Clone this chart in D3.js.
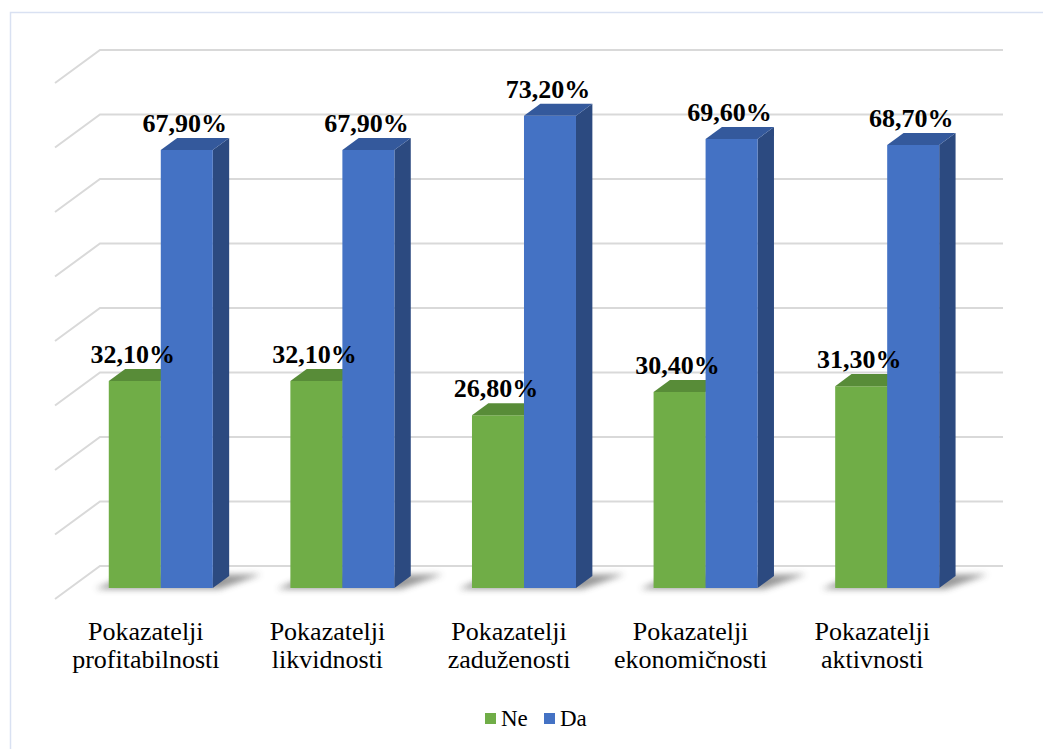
<!DOCTYPE html>
<html>
<head>
<meta charset="utf-8">
<script src="https://cdn.jsdelivr.net/npm/d3@7"></script>
<style>
  body { margin: 0; background: #fff; }
  text { font-family: 'Liberation Serif', 'DejaVu Serif', serif; }
</style>
</head>
<body>
<svg id="chart"></svg>
<script>
var categories = [
  ["Pokazatelji", "profitabilnosti"],
  ["Pokazatelji", "likvidnosti"],
  ["Pokazatelji", "zaduženosti"],
  ["Pokazatelji", "ekonomičnosti"],
  ["Pokazatelji", "aktivnosti"]
];
var seriesNames = ["Ne", "Da"];
var neValues = [32.1, 32.1, 26.8, 30.4, 31.3];
var daValues = [67.9, 67.9, 73.2, 69.6, 68.7];
var gridTicks = [0, 10, 20, 30, 40, 50, 60, 70, 80];

var width = 1043, height = 749;
var serif = "'Liberation Serif', 'DejaVu Serif', serif";
var svg = d3.select('#chart').attr('width', width).attr('height', height)
  .style('display', 'block');

// colours: front, top, side
var colors = {
  Ne: { front: '#70AD47', top: '#588C38', side: '#4E7D31' },
  Da: { front: '#4472C4', top: '#34599C', side: '#2C4A80' }
};

// oblique projection: z = 0 front of floor, z = 1 back wall
var depthX = 45, depthY = 33;
var catKeys = categories.map(function (c) { return c.join(' '); });
var x = d3.scaleBand().domain(catKeys).range([55, 963]);
var sub = d3.scaleBand().domain(seriesNames).range([0, x.bandwidth()]).paddingOuter(0.746);
var y = d3.scaleLinear().domain([0, 80]).range([599, 83]);

function P(px, v, z) {
  return [px + z * depthX, y(v) - z * depthY];
}

var defs = svg.append('defs');
defs.append('filter').attr('id', 'blur')
  .attr('x', '-50%').attr('y', '-50%').attr('width', '200%').attr('height', '200%')
  .append('feGaussianBlur').attr('stdDeviation', 3);

// frame
svg.append('path')
  .attr('d', 'M10.5,749 L10.5,12.5 L1043,12.5')
  .attr('fill', 'none').attr('stroke', '#D9E1F2').attr('stroke-width', 1.5);

// gridlines: back wall + left wall
var grid = svg.append('g');
gridTicks.forEach(function (t) {
  var a = P(55, t, 0), b = P(55, t, 1), c = P(958, t, 1);
  grid.append('path')
    .attr('d', 'M' + a + 'L' + b + 'L' + c)
    .attr('fill', 'none')
    .attr('stroke', '#D9D9D9')
    .attr('stroke-width', 2);
});

var z0 = 0.333, z1 = 0.697;

// floor shadows
var shadows = svg.append('g');
catKeys.forEach(function (k) {
  var xl = x(k) + sub('Ne'), xr = x(k) + sub('Da') + sub.bandwidth();
  var p1 = P(xl - 12, 0, z0 - 0.03), p2 = P(xr + 8, 0, z0 - 0.03),
      p3 = P(xr + 30, 0, z1 + 0.05), p4 = P(xl, 0, z1);
  shadows.append('path')
    .attr('d', 'M' + p1 + 'L' + p2 + 'L' + p3 + 'L' + p4 + 'Z')
    .attr('fill', '#444').attr('opacity', 0.55)
    .attr('filter', 'url(#blur)');
});

function drawBar(g, x0, w, v, c) {
  var fl = P(x0, v, z0), fr = P(x0 + w, v, z0),
      bl = P(x0, v, z1), br = P(x0 + w, v, z1),
      flb = P(x0, 0, z0), frb = P(x0 + w, 0, z0), brb = P(x0 + w, 0, z1);
  g.append('path').attr('d', 'M' + fr + 'L' + br + 'L' + brb + 'L' + frb + 'Z').attr('fill', c.side);
  g.append('path').attr('d', 'M' + fl + 'L' + fr + 'L' + frb + 'L' + flb + 'Z').attr('fill', c.front);
  g.append('path').attr('d', 'M' + fl + 'L' + bl + 'L' + br + 'L' + fr + 'Z').attr('fill', c.top);
}

var bars = svg.append('g');
var labels = svg.append('g')
  .attr('font-family', serif)
  .attr('font-weight', 'bold').attr('font-size', 26).attr('text-anchor', 'middle');

catKeys.forEach(function (k, i) {
  var vals = { Ne: neValues[i], Da: daValues[i] };
  seriesNames.forEach(function (s) {
    drawBar(bars, x(k) + sub(s), sub.bandwidth(), vals[s], colors[s]);
    var top = P(x(k) + sub(s) + sub.bandwidth() / 2, vals[s], z0);
    labels.append('text')
      .attr('x', top[0] - 2)
      .attr('y', top[1] - 18)
      .text(d3.format('.2f')(vals[s]).replace('.', ',') + '%');
  });
});
labels.raise();

// category labels
var catG = svg.append('g').attr('font-family', serif)
  .attr('font-size', 26).attr('text-anchor', 'middle').attr('fill', '#000');
categories.forEach(function (c, i) {
  var cx = x(catKeys[i]) + x.bandwidth() / 2;
  c.forEach(function (line, j) {
    catG.append('text').attr('x', cx).attr('y', 640 + j * 28).text(line);
  });
});

// legend
var legend = svg.append('g').attr('font-family', serif).attr('font-size', 23);
var legendX = [485, 544];
seriesNames.forEach(function (s, i) {
  legend.append('rect').attr('x', legendX[i]).attr('y', 713).attr('width', 11).attr('height', 11)
    .attr('fill', colors[s].front);
  legend.append('text').attr('x', legendX[i] + 16).attr('y', 726).text(s);
});
</script>
</body>
</html>
